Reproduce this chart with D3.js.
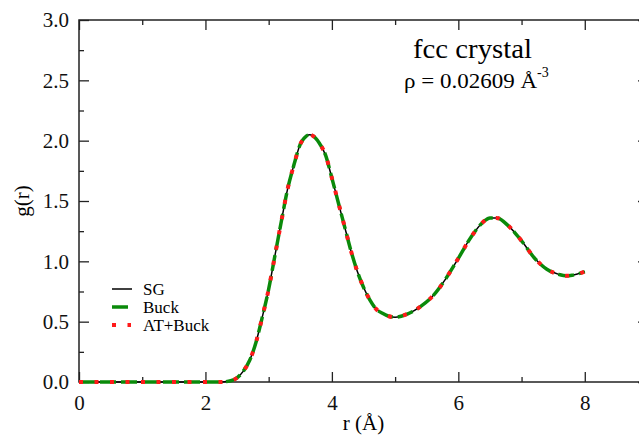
<!DOCTYPE html>
<html>
<head>
<meta charset="utf-8">
<script src="https://cdn.jsdelivr.net/npm/d3@7"></script>
<style>
  body { margin: 0; background: #fff; }
  svg { display: block; font-family: "Liberation Serif", "Times New Roman", serif; }
</style>
</head>
<body>
<svg id="gr-plot" width="639" height="437"></svg>
<script>
// radial distribution function, fcc crystal
const rVals = [0, 0.5, 1.0, 1.5, 2.0, 2.2, 2.3, 2.4, 2.5, 2.6, 2.7, 2.8, 2.9, 3.0, 3.1, 3.2, 3.3, 3.4, 3.5, 3.6,
  3.65, 3.7, 3.8, 3.9, 4.0, 4.1, 4.2, 4.3, 4.4, 4.5, 4.6, 4.7, 4.8, 4.9, 5.0, 5.2, 5.4, 5.6, 5.8, 6.0,
  6.2, 6.4, 6.5, 6.6, 6.8, 7.0, 7.2, 7.4, 7.6, 7.7, 7.8, 8.0];
const gSG = [0, 0, 0, 0, 0, 0, 0.002, 0.01, 0.035, 0.09, 0.18, 0.33, 0.54, 0.77, 1.05, 1.33, 1.60, 1.80, 1.97, 2.04,
  2.05, 2.04, 1.98, 1.88, 1.69, 1.49, 1.29, 1.09, 0.92, 0.785, 0.68, 0.605, 0.57, 0.545, 0.537, 0.565, 0.625, 0.715, 0.855, 1.025,
  1.20, 1.33, 1.36, 1.36, 1.29, 1.17, 1.03, 0.935, 0.89, 0.88, 0.885, 0.915];
const gBuck = gSG.slice();
const gATBuck = gSG.slice();

const xTicks = [0, 2, 4, 6, 8];
const xMinor = [1, 3, 5, 7, 9];
const yTicks = [0, 0.5, 1.0, 1.5, 2.0, 2.5, 3.0];
const yMinor = [0.25, 0.75, 1.25, 1.75, 2.25, 2.75];

const series = [
  { name: "SG", g: gSG, color: "black", width: 1.5, dash: null },
  { name: "Buck", g: gBuck, color: "#0a8a0a", width: 3.5, dash: "16,5" },
  { name: "AT+Buck", g: gATBuck, color: "#ff1a1a", width: 4, dash: "4,11.5" }
];

const svg = d3.select('#gr-plot');
const margin = { left: 79, top: 20 };
const innerWidth = 569;   // frame runs past the right edge of the picture
const innerHeight = 362;

const xScale = d3.scaleLinear().domain([0, 9]).range([0, innerWidth]);
const yScale = d3.scaleLinear().domain([0, 3]).range([innerHeight, 0]);

const g = svg.append('g')
  .attr('transform', `translate(${margin.left},${margin.top})`);

const styleAxis = sel => {
  sel.attr('font-family', null).attr('font-size', null);
  sel.select('.domain').remove();
  sel.selectAll('line').attr('stroke', '#222').attr('stroke-width', 1.3);
  sel.selectAll('text').attr('fill', '#111').style('font-size', '21px');
};
const bareAxis = sel => {
  styleAxis(sel);
  sel.selectAll('text').remove();
};

// bottom
g.append('g').attr('transform', `translate(0,${innerHeight})`)
  .call(d3.axisBottom(xScale).tickValues(xTicks).tickSize(-10).tickPadding(13).tickFormat(d3.format('d')))
  .call(styleAxis);
g.append('g').attr('transform', `translate(0,${innerHeight})`)
  .call(d3.axisBottom(xScale).tickValues(xMinor).tickSize(-5))
  .call(bareAxis);
// top
g.append('g')
  .call(d3.axisTop(xScale).tickValues(xTicks).tickSize(-10))
  .call(bareAxis);
g.append('g')
  .call(d3.axisTop(xScale).tickValues(xMinor).tickSize(-5))
  .call(bareAxis);
// left
g.append('g')
  .call(d3.axisLeft(yScale).tickValues(yTicks).tickSize(-10).tickPadding(10).tickFormat(d3.format('.1f')))
  .call(styleAxis);
g.append('g')
  .call(d3.axisLeft(yScale).tickValues(yMinor).tickSize(-5))
  .call(bareAxis);
// right
g.append('g').attr('transform', `translate(${innerWidth},0)`)
  .call(d3.axisRight(yScale).tickValues(yTicks).tickSize(-10))
  .call(bareAxis);
g.append('g').attr('transform', `translate(${innerWidth},0)`)
  .call(d3.axisRight(yScale).tickValues(yMinor).tickSize(-5))
  .call(bareAxis);

g.append('rect')
  .attr('width', innerWidth).attr('height', innerHeight)
  .attr('fill', 'none').attr('stroke', '#222').attr('stroke-width', 1.5);

// curves
const line = d3.line()
  .x((d, i) => xScale(rVals[i]))
  .y(d => yScale(d))
  .curve(d3.curveMonotoneX);

series.forEach(s => {
  g.append('path')
    .datum(s.g)
    .attr('fill', 'none')
    .attr('stroke', s.color)
    .attr('stroke-width', s.width)
    .attr('stroke-dasharray', s.dash)
    .attr('d', line);
});

// axis labels
g.append('text')
  .attr('x', xScale(4.5)).attr('y', innerHeight + 48)
  .attr('text-anchor', 'middle').style('font-size', '21px')
  .text('r (Å)');
g.append('text')
  .attr('transform', `translate(-50,${innerHeight / 2}) rotate(-90)`)
  .attr('text-anchor', 'middle').style('font-size', '21px')
  .text('g(r)');

// annotation
g.append('text')
  .attr('x', 334).attr('y', 38)
  .attr('textLength', 119).attr('lengthAdjust', 'spacingAndGlyphs')
  .style('font-size', '27px')
  .text('fcc crystal');
const rho = g.append('text')
  .attr('x', 325).attr('y', 68)
  .style('font-size', '21px');
rho.append('tspan')
  .attr('textLength', 133).attr('lengthAdjust', 'spacingAndGlyphs')
  .text('ρ = 0.02609 Å');
rho.append('tspan').attr('dy', -11).style('font-size', '14px').text('-3');

// legend
const legend = g.append('g').attr('transform', 'translate(33,269)');
series.forEach((s, i) => {
  const row = legend.append('g').attr('transform', `translate(0,${i * 18})`);
  row.append('line')
    .attr('x1', 0).attr('x2', i === 0 ? 20 : (i === 1 ? 16 : 19))
    .attr('stroke', s.color)
    .attr('stroke-width', s.width)
    .attr('stroke-dasharray', s.dash);
  row.append('text')
    .attr('x', 31).attr('y', 6)
    .style('font-size', '17px')
    .text(s.name);
});
</script>
</body>
</html>
